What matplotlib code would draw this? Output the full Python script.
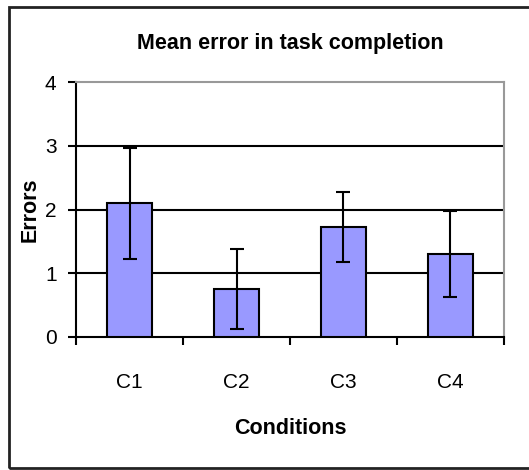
import matplotlib
matplotlib.use('Agg')
import matplotlib.pyplot as plt
from matplotlib.patches import Rectangle

conditions = ['C1', 'C2', 'C3', 'C4']
mean_errors = [2.1, 0.75, 1.73, 1.3]
err_bars = [0.87, 0.63, 0.55, 0.67]

plt.rcParams['font.family'] = ['Liberation Sans Narrow', 'Liberation Sans', 'DejaVu Sans']

fig = plt.figure(figsize=(5.29, 4.70), dpi=100)
ax = fig.add_axes([0.1437, 0.283, 0.809, 0.5425])

x = range(len(conditions))
ax.bar(x, mean_errors, width=0.42, color='#9999ff', edgecolor='black', linewidth=1.5,
       yerr=err_bars, capsize=5, error_kw=dict(elinewidth=1.5, capthick=1.5, ecolor='black'),
       zorder=3)

ax.set_xlim(-0.5, 3.5)
ax.set_ylim(0, 4)
ax.set_yticks([0, 1, 2, 3, 4])
ax.set_xticks([-0.5, 0.5, 1.5, 2.5, 3.5])
ax.set_xticklabels([])
ax.set_xticks(list(x), minor=True)
ax.set_xticklabels(conditions, minor=True)
ax.tick_params(axis='x', which='minor', length=0, pad=26, labelsize=15)
ax.tick_params(axis='x', which='major', length=6, width=1.5, direction='out')
ax.tick_params(axis='y', length=6, width=1.5, direction='out', labelsize=15, pad=8)

for y in [1, 2, 3]:
    ax.axhline(y, color='black', linewidth=1.5, zorder=1)

ax.spines['left'].set_linewidth(1.5)
ax.spines['bottom'].set_linewidth(1.5)
ax.spines['top'].set_color('#999999')
ax.spines['right'].set_color('#999999')
ax.spines['top'].set_linewidth(1.5)
ax.spines['right'].set_linewidth(1.5)

ax.set_title('Mean error in task completion', fontsize=15.5, fontweight='bold', pad=24)
ax.set_xlabel('Conditions', fontsize=15.5, fontweight='bold', labelpad=19)
ax.set_ylabel('Errors', fontsize=15.5, fontweight='bold', labelpad=3)

# outer chart border, runs off the right edge
fig.patches.append(Rectangle((9 / 529, 2 / 470), 1.1, 461 / 470, transform=fig.transFigure,
                             fill=False, edgecolor='#222222', linewidth=2, clip_on=False))

plt.savefig('out.png', dpi=100)
